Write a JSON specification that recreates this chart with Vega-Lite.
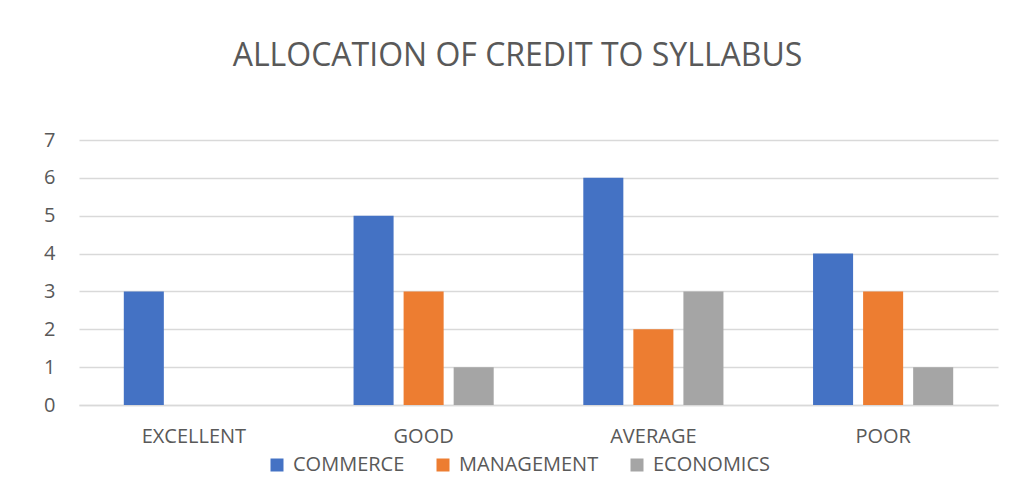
{
  "$schema": "https://vega.github.io/schema/vega-lite/v6.json",
  "autosize": {"type": "none"},
  "width": 919,
  "height": 265,
  "padding": {"left": 79, "top": 140, "right": 15, "bottom": 95},
  "background": "white",
  "title": {
    "text": "ALLOCATION OF CREDIT TO SYLLABUS",
    "font": "Open Sans",
    "fontSize": 32,
    "fontWeight": "normal",
    "color": "#595959",
    "anchor": "middle",
    "dx": -21,
    "offset": 57
  },
  "data": {
    "values": [
      {"rating": "EXCELLENT", "subject": "COMMERCE", "value": 3},
      {"rating": "EXCELLENT", "subject": "MANAGEMENT", "value": 0},
      {"rating": "EXCELLENT", "subject": "ECONOMICS", "value": 0},
      {"rating": "GOOD", "subject": "COMMERCE", "value": 5},
      {"rating": "GOOD", "subject": "MANAGEMENT", "value": 3},
      {"rating": "GOOD", "subject": "ECONOMICS", "value": 1},
      {"rating": "AVERAGE", "subject": "COMMERCE", "value": 6},
      {"rating": "AVERAGE", "subject": "MANAGEMENT", "value": 2},
      {"rating": "AVERAGE", "subject": "ECONOMICS", "value": 3},
      {"rating": "POOR", "subject": "COMMERCE", "value": 4},
      {"rating": "POOR", "subject": "MANAGEMENT", "value": 3},
      {"rating": "POOR", "subject": "ECONOMICS", "value": 1}
    ]
  },
  "mark": {"type": "bar"},
  "encoding": {
    "x": {
      "field": "rating",
      "type": "nominal",
      "sort": ["EXCELLENT", "GOOD", "AVERAGE", "POOR"],
      "scale": {"paddingInner": 0.39, "paddingOuter": 0.195},
      "axis": {
        "title": null,
        "labelAngle": 0,
        "ticks": false,
        "domain": true,
        "domainColor": "#D9D9D9",
        "domainWidth": 1.5,
        "labelFont": "Open Sans",
        "labelFontSize": 20,
        "labelColor": "#595959",
        "labelPadding": 21
      }
    },
    "xOffset": {
      "field": "subject",
      "type": "nominal",
      "sort": ["COMMERCE", "MANAGEMENT", "ECONOMICS"],
      "scale": {"paddingInner": 0.2, "paddingOuter": 0}
    },
    "y": {
      "field": "value",
      "type": "quantitative",
      "scale": {"domain": [0, 7], "nice": false},
      "axis": {
        "title": null,
        "values": [0, 1, 2, 3, 4, 5, 6, 7],
        "labelOverlap": false,
        "ticks": false,
        "domain": false,
        "gridColor": "#D9D9D9",
        "gridWidth": 1.5,
        "labelFont": "Open Sans",
        "labelFontSize": 20,
        "labelColor": "#595959",
        "labelPadding": 24
      }
    },
    "color": {
      "field": "subject",
      "type": "nominal",
      "sort": ["COMMERCE", "MANAGEMENT", "ECONOMICS"],
      "scale": {
        "domain": ["COMMERCE", "MANAGEMENT", "ECONOMICS"],
        "range": ["#4472C4", "#ED7D31", "#A5A5A5"]
      },
      "legend": {
        "title": null,
        "orient": "none",
        "direction": "horizontal",
        "legendX": 188,
        "legendY": 315,
        "symbolType": "square",
        "symbolSize": 169,
        "symbolStrokeWidth": 0,
        "labelFont": "Open Sans",
        "labelFontSize": 20,
        "labelColor": "#595959",
        "labelOffset": 6,
        "columnPadding": 28
      }
    }
  },
  "config": {
    "view": {"stroke": null}
  }
}
